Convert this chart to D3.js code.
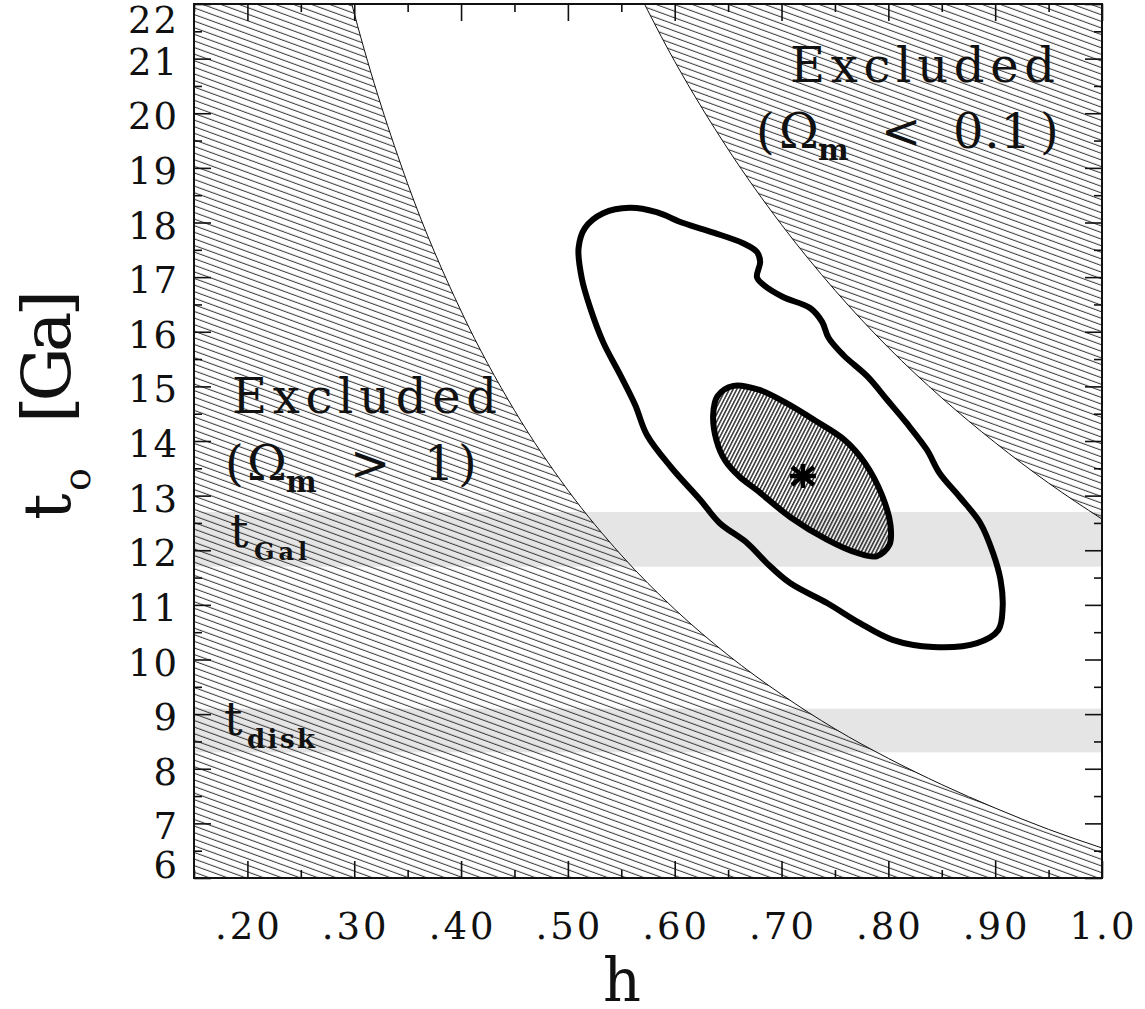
<!DOCTYPE html>
<html>
<head>
<meta charset="utf-8">
<script src="https://cdn.jsdelivr.net/npm/d3@7"></script>
<style>
  body { margin: 0; background: #fff; }
  svg text { font-family: "DejaVu Serif", "Liberation Serif", serif; fill: #111; }
</style>
</head>
<body>
<svg id="chart" width="1145" height="1009"></svg>
<script>
// limits of the excluded regions, t0 vs h
const hOmega1 = [0.28, 0.30, 0.35, 0.40, 0.45, 0.50, 0.55, 0.60, 0.65, 0.70, 0.75, 0.80, 0.85, 0.90, 0.95, 1.00]
const tOmega1 = [23.39, 21.83, 18.71, 16.38, 14.56, 13.10, 11.91, 10.92, 10.08, 9.36, 8.73, 8.19, 7.71, 7.28, 6.89, 6.55]
const hOmega01 = [0.55, 0.60, 0.65, 0.70, 0.75, 0.80, 0.85, 0.90, 0.95, 1.00]
const tOmega01 = [22.85, 20.95, 19.34, 17.96, 16.76, 15.71, 14.79, 13.97, 13.23, 12.57]

// confidence contours
const outerH = [0.558, 0.583, 0.608, 0.637, 0.664, 0.677, 0.680, 0.677, 0.683, 0.701, 0.727, 0.738, 0.744, 0.758, 0.781,
  0.799, 0.817, 0.836, 0.848, 0.867, 0.886, 0.898, 0.905, 0.907, 0.903, 0.883, 0.842, 0.804, 0.773, 0.743, 0.708, 0.686,
  0.668, 0.642, 0.624, 0.597, 0.574, 0.563, 0.549, 0.533, 0.521, 0.513, 0.510, 0.516, 0.533]
const outerT = [18.27, 18.19, 17.99, 17.81, 17.62, 17.46, 17.28, 17.00, 16.86, 16.64, 16.43, 16.18, 15.89, 15.57, 15.17,
  14.75, 14.33, 13.84, 13.41, 12.97, 12.50, 11.95, 11.46, 10.96, 10.54, 10.30, 10.23, 10.36, 10.67, 11.03, 11.40, 11.77,
  12.13, 12.50, 12.92, 13.51, 14.11, 14.66, 15.21, 15.81, 16.43, 16.98, 17.53, 17.90, 18.17]
const innerH = [0.655, 0.640, 0.636, 0.639, 0.647, 0.661, 0.677, 0.708, 0.743, 0.771, 0.789, 0.801, 0.802, 0.794, 0.778,
  0.759, 0.731, 0.703, 0.680]
const innerT = [15.01, 14.82, 14.48, 14.02, 13.65, 13.34, 13.10, 12.61, 12.19, 11.95, 11.89, 12.10, 12.46, 13.01, 13.60,
  14.02, 14.38, 14.71, 14.93]
const bestFit = [0.72, 13.36]

// age bands (t_Gal, t_disk)
const bandGal = [11.7, 12.7]
const bandDisk = [8.3, 9.1]

const xTicks = [0.2, 0.3, 0.4, 0.5, 0.6, 0.7, 0.8, 0.9, 1.0]
const xTickLabels = ['.20', '.30', '.40', '.50', '.60', '.70', '.80', '.90', '1.0']
const xMinor = [0.15, 0.25, 0.35, 0.45, 0.55, 0.65, 0.75, 0.85, 0.95]
const yTicks = d3.range(6, 23)
const yMinor = d3.range(6.5, 22, 1)

const plotL = 194, plotR = 1102, plotT = 4, plotB = 878

const x = d3.scaleLinear().domain([0.15, 1.0]).range([plotL, plotR])
const y = d3.scaleLinear().domain([6, 22]).range([plotB, plotT])

const svg = d3.select('#chart')
const defs = svg.append('defs')

defs.append('clipPath').attr('id', 'plot-clip')
  .append('rect')
  .attr('x', plotL).attr('y', plotT)
  .attr('width', plotR - plotL).attr('height', plotB - plotT)

// wide hatch for the excluded regions
const hatch = defs.append('pattern')
  .attr('id', 'hatch')
  .attr('patternUnits', 'userSpaceOnUse')
  .attr('width', 20).attr('height', 6.2)
  .attr('patternTransform', 'rotate(20)')
hatch.append('line')
  .attr('x1', 0).attr('x2', 20).attr('y1', 3).attr('y2', 3)
  .attr('stroke', '#333').attr('stroke-width', 1)

// fine hatch for the inner contour
const hatch2 = defs.append('pattern')
  .attr('id', 'hatch-fine')
  .attr('patternUnits', 'userSpaceOnUse')
  .attr('width', 20).attr('height', 3.3)
  .attr('patternTransform', 'rotate(-63)')
hatch2.append('line')
  .attr('x1', 0).attr('x2', 20).attr('y1', 1.6).attr('y2', 1.6)
  .attr('stroke', '#222').attr('stroke-width', 1.4)

const plot = svg.append('g').attr('clip-path', 'url(#plot-clip)')

// grey bands
plot.selectAll('rect.band')
  .data([bandGal, bandDisk])
  .enter()
  .append('rect')
  .attr('class', 'band')
  .attr('x', plotL).attr('width', plotR - plotL)
  .attr('y', d => y(d[1]))
  .attr('height', d => y(d[0]) - y(d[1]))
  .attr('fill', '#e5e5e5')

const curveLine = d3.line()
  .x(d => x(d[0]))
  .y(d => y(d[1]))
  .curve(d3.curveMonotoneX)

const omega1 = d3.zip(hOmega1, tOmega1)
const omega01 = d3.zip(hOmega01, tOmega01)

// Omega_m > 1 (below-left)
const last1 = omega1[omega1.length - 1]
const region1 = 'M' + x(0.10) + ',' + y(24) +
  'L' + curveLine(omega1).slice(1) +
  'L' + x(1.05) + ',' + y(last1[1]) +
  'L' + x(1.05) + ',' + y(5) +
  'L' + x(0.10) + ',' + y(5) + 'Z'
plot.append('path').attr('d', region1).attr('fill', 'url(#hatch)')

// Omega_m < 0.1 (above-right)
const last01 = omega01[omega01.length - 1]
const region01 = curveLine(omega01) +
  'L' + x(1.05) + ',' + y(last01[1]) +
  'L' + x(1.05) + ',' + y(24) +
  'L' + x(hOmega01[0]) + ',' + y(24) + 'Z'
plot.append('path').attr('d', region01).attr('fill', 'url(#hatch)')

plot.selectAll('path.limit')
  .data([omega1, omega01])
  .enter()
  .append('path')
  .attr('class', 'limit')
  .attr('d', curveLine)
  .attr('fill', 'none')
  .attr('stroke', '#111')
  .attr('stroke-width', 1)

// contours
const closed = d3.line()
  .x(d => x(d[0]))
  .y(d => y(d[1]))
  .curve(d3.curveCatmullRomClosed.alpha(0.5))

plot.append('path')
  .attr('d', closed(d3.zip(outerH, outerT)))
  .attr('fill', 'none')
  .attr('stroke', '#000')
  .attr('stroke-width', 6)

plot.append('path')
  .attr('d', closed(d3.zip(innerH, innerT)))
  .attr('fill', 'url(#hatch-fine)')
  .attr('stroke', '#000')
  .attr('stroke-width', 6)

// best fit asterisk
const sx = x(bestFit[0]), sy = y(bestFit[1])
const star = [[-13, 0, 13, 0], [0, -12, 0, 12], [-11, -9, 11, 9], [-11, 9, 11, -9]]
plot.selectAll('line.star')
  .data(star)
  .enter()
  .append('line')
  .attr('class', 'star')
  .attr('x1', d => sx + d[0]).attr('y1', d => sy + d[1])
  .attr('x2', d => sx + d[2]).attr('y2', d => sy + d[3])
  .attr('stroke', '#000')
  .attr('stroke-width', 4.5)

// annotations
const notes = svg.append('g')
notes.append('text').text('Excluded')
  .attr('x', 790).attr('y', 82)
  .attr('font-size', 48)
  .attr('textLength', 265).attr('lengthAdjust', 'spacing')
notes.append('text').text('Excluded')
  .attr('x', 232).attr('y', 413)
  .attr('font-size', 48)
  .attr('textLength', 265).attr('lengthAdjust', 'spacing')

function omegaNote(base, parts) {
  const t = notes.append('text').attr('y', base).attr('font-size', 48)
  parts.forEach(p => {
    const s = t.append('tspan').attr('x', p.x).text(p.s)
    if (p.sub) {
      s.attr('font-size', 29).attr('font-weight', 'bold').attr('y', base + 12)
    } else {
      s.attr('y', base)
    }
    if (p.len) s.attr('textLength', p.len).attr('lengthAdjust', 'spacing')
  })
}
omegaNote(148, [
  { s: '(', x: 756 }, { s: 'Ω', x: 779 }, { s: 'm', x: 818, sub: true },
  { s: '<', x: 881 }, { s: '0.1', x: 953, len: 78 }, { s: ')', x: 1040 }
])
omegaNote(480, [
  { s: '(', x: 225 }, { s: 'Ω', x: 247 }, { s: 'm', x: 286, sub: true },
  { s: '>', x: 350 }, { s: '1', x: 424 }, { s: ')', x: 458 }
])

function ageNote(tx, base, sub, subX, subLen, subSize) {
  notes.append('text').text('t')
    .attr('x', tx).attr('y', base).attr('font-size', 46)
  notes.append('text').text(sub)
    .attr('x', subX).attr('y', base + 13)
    .attr('font-size', subSize).attr('font-weight', 'bold')
    .attr('textLength', subLen).attr('lengthAdjust', 'spacing')
}
ageNote(230, 547, 'Gal', 254, 53, 24)
ageNote(224, 735, 'disk', 247, 68, 26)

// frame and ticks
const axes = svg.append('g')
function tickAxis(axis, tr, values, size) {
  const g = axes.append('g')
    .attr('transform', tr)
    .call(axis.tickValues(values).tickSize(size).tickSizeOuter(0).tickFormat(''))
  g.select('.domain').remove()
  g.selectAll('line').attr('stroke', '#111').attr('stroke-width', 1.6)
}
tickAxis(d3.axisBottom(x), `translate(0,${plotB})`, xTicks, -17)
tickAxis(d3.axisBottom(x), `translate(0,${plotB})`, xMinor, -8)
tickAxis(d3.axisTop(x), `translate(0,${plotT})`, xTicks, -17)
tickAxis(d3.axisTop(x), `translate(0,${plotT})`, xMinor, -8)
tickAxis(d3.axisLeft(y), `translate(${plotL},0)`, yTicks, -17)
tickAxis(d3.axisLeft(y), `translate(${plotL},0)`, yMinor, -8)
tickAxis(d3.axisRight(y), `translate(${plotR},0)`, yTicks, -17)
tickAxis(d3.axisRight(y), `translate(${plotR},0)`, yMinor, -8)

axes.append('rect')
  .attr('x', plotL).attr('y', plotT)
  .attr('width', plotR - plotL).attr('height', plotB - plotT)
  .attr('fill', 'none')
  .attr('stroke', '#111')
  .attr('stroke-width', 2)

// tick labels
axes.selectAll('text.xl')
  .data(xTicks)
  .enter()
  .append('text')
  .attr('class', 'xl')
  .attr('x', d => x(d) + 1.5)
  .attr('y', 939)
  .attr('text-anchor', 'middle')
  .attr('font-size', 37)
  .attr('font-weight', 300)
  .attr('letter-spacing', 3)
  .text((d, i) => xTickLabels[i])

axes.selectAll('text.yl')
  .data(yTicks)
  .enter()
  .append('text')
  .attr('class', 'yl')
  .attr('x', 179)
  .attr('y', d => Math.min(Math.max(y(d) + 16, 33), 878))
  .attr('text-anchor', 'end')
  .attr('font-size', 37)
  .attr('letter-spacing', 2)
  .text(d => d)

// axis titles
svg.append('text')
  .attr('x', 622).attr('y', 1001)
  .attr('text-anchor', 'middle')
  .attr('font-size', 59)
  .text('h')

const ytitle = svg.append('g').attr('transform', 'translate(70,520) rotate(-90)')
ytitle.append('text').attr('x', 0).attr('y', 0).attr('font-size', 66).text('t')
ytitle.append('text').attr('x', 29).attr('y', 20).attr('font-size', 38).text('o')
ytitle.append('text').attr('x', 97).attr('y', 0).attr('font-size', 68)
  .attr('textLength', 133).attr('lengthAdjust', 'spacing')
  .text('[Ga]')
</script>
</body>
</html>
